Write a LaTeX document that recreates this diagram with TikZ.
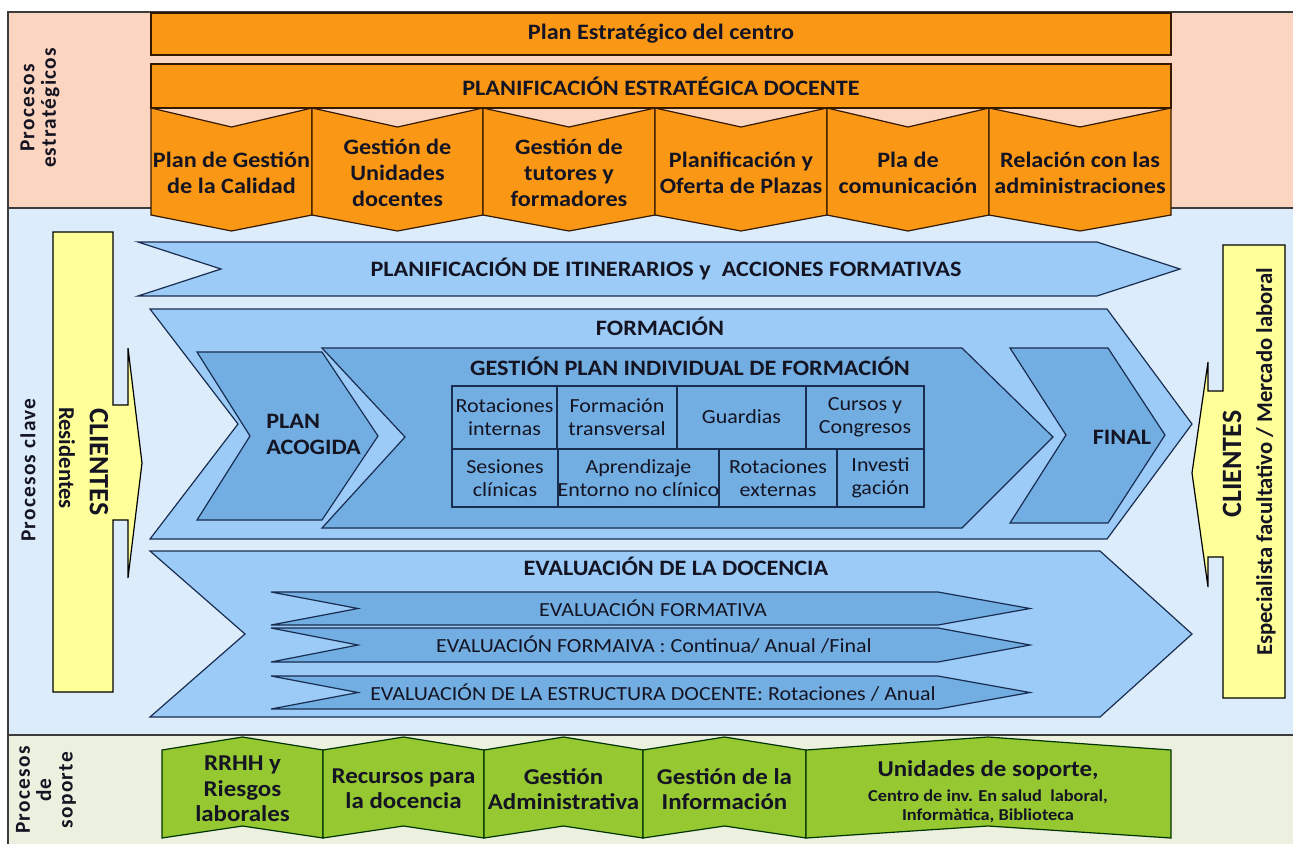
\documentclass[tikz,border=0pt]{standalone}
\usepackage{fontspec}
\setmainfont[FakeStretch=1.1]{Carlito}
\newfontfamily\rotfont{Carlito}
\newfontfamily\lblfont[LetterSpace=6]{Carlito}
\definecolor{salmon}{RGB}{252,213,192}
\definecolor{orangef}{RGB}{250,152,22}
\definecolor{bandblue}{RGB}{221,236,250}
\definecolor{chev}{RGB}{155,203,246}
\definecolor{chevdark}{RGB}{114,174,226}
\definecolor{bandgreen}{RGB}{235,241,222}
\definecolor{greenf}{RGB}{150,200,50}
\definecolor{yel}{RGB}{255,255,153}
\definecolor{ink}{RGB}{20,20,35}
\definecolor{navy}{RGB}{25,45,80}
\definecolor{framec}{RGB}{60,60,60}
\begin{document}
\begin{tikzpicture}[x=0.75pt,y=-0.75pt,
  every node/.style={text=ink, inner sep=0pt, align=center},
  frame/.style={draw=framec, line width=0.9pt},
  obox/.style={fill=orangef, draw=black!80!orange, line width=0.9pt},
  gbox/.style={fill=greenf, draw=black!80!green, line width=0.9pt},
  bigchev/.style={fill=chev, draw=navy, line width=0.9pt},
  inchev/.style={fill=chevdark, draw=navy, line width=0.9pt},
  ybox/.style={fill=yel, draw=black, line width=0.9pt},
  hdr/.style={font=\bfseries\fontsize{16.5}{19.5}\selectfont},
  cell/.style={font=\fontsize{15}{17.5}\selectfont},
  evtxt/.style={font=\fontsize{15}{17.5}\selectfont},
  gtxt/.style={font=\bfseries\fontsize{17}{19}\selectfont},
  lbl/.style={font=\lblfont\bfseries\fontsize{16}{16}\selectfont, rotate=90}
]
\useasboundingbox (0,0) rectangle (1293,844);
\fill[white] (0,0) rectangle (1293,844);
% bands
\fill[salmon] (8,12) rectangle (1293,208);
\fill[bandblue] (8,208) rectangle (1293,735);
\fill[bandgreen] (8,735) rectangle (1293,844);
\draw[frame] (1293,12) -- (8,12) -- (8,844);
\draw[frame] (8,208) -- (1293,208);
\draw[frame] (8,735) -- (1293,735);

% left labels
\node[lbl] (lest) at (40,108) {Procesos\\estratégicos};
\node[lbl] (lcla) at (28,470) {Procesos clave};
\node[lbl] (lsop) at (46,790) {Procesos\\de\\soporte};

% strategic bars
\draw[obox] (151,13) rectangle (1171,55);
\node[hdr] (pe) at (661,34) {Plan Estratégico del centro};
\draw[obox] (151,64) rectangle (1171,108);
\node[hdr] (pd) at (661,86) {PLANIFICACIÓN ESTRATÉGICA DOCENTE};

\foreach \a/\b/\t in {151/312/{Plan de Gestión\\de la Calidad},
                      312/483/{Gestión de\\Unidades\\docentes},
                      483/655/{Gestión de\\tutores y\\formadores},
                      655/827/{Planificación y\\Oferta de Plazas},
                      827/989/{Pla de\\comunicación},
                      989/1171/{Relación con las\\administraciones}}{
  \draw[obox] (\a,108) -- ({(\a+\b)/2},127) -- (\b,108) -- (\b,215) -- ({(\a+\b)/2},231) -- (\a,215) -- cycle;
  \node[hdr] (o\a) at ({(\a+\b)/2},173) {\t};
}

% yellow client arrows
\draw[ybox] (53,232) -- (113,232) -- (113,405) -- (128,405) -- (128,348) -- (142,463) -- (128,578) -- (128,520) -- (113,520) -- (113,692) -- (53,692) -- cycle;
\node[font=\rotfont\bfseries\fontsize{21}{21}\selectfont, rotate=-90] (cL) at (99,462) {CLIENTES};
\node[font=\rotfont\bfseries\fontsize{17}{17}\selectfont, rotate=-90] (rL) at (67,458) {Residentes};

\draw[ybox] (1285,245) -- (1223,245) -- (1223,391) -- (1208,391) -- (1208,362) -- (1192,473) -- (1208,587) -- (1208,557) -- (1223,557) -- (1223,698) -- (1285,698) -- cycle;
\node[font=\rotfont\bfseries\fontsize{21}{21}\selectfont, rotate=90] (cR) at (1232,464) {CLIENTES};
\node[font=\rotfont\bfseries\fontsize{17}{17}\selectfont, rotate=90] (eR) at (1266,462) {Especialista facultativo / Mercado laboral};

% planning chevron
\draw[bigchev] (138,242) -- (1097,242) -- (1180,269) -- (1097,296) -- (138,296) -- (221,269) -- cycle;
\node[hdr] (plan) at (666,269) {PLANIFICACIÓN DE ITINERARIOS y\ \ ACCIONES FORMATIVAS};

% formacion chevron
\draw[bigchev] (150,309) -- (1107,309) -- (1192,424) -- (1107,539) -- (150,539) -- (238,424) -- cycle;
\node[hdr] (form) at (660,326) {FORMACIÓN};
\draw[inchev] (197,352) -- (322,352) -- (378,436) -- (322,520) -- (197,520) -- (250,436) -- cycle;
\node[hdr, anchor=west, align=left] (acog) at (266,434) {PLAN\\ACOGIDA};
\draw[inchev] (322,348) -- (962,348) -- (1053,437) -- (962,528) -- (322,528) -- (405,437) -- cycle;
\node[hdr] (gpif) at (690,366) {GESTIÓN PLAN INDIVIDUAL DE FORMACIÓN};
\draw[inchev] (1010,348) -- (1108,348) -- (1165,435) -- (1108,523) -- (1010,523) -- (1066,435) -- cycle;
\node[hdr] (fin) at (1122,437) {FINAL};

% table
\draw[navy, line width=0.9pt] (452,386) rectangle (924,507);
\draw[navy, line width=0.9pt] (452,449) -- (924,449);
\draw[navy, line width=0.9pt] (557,386) -- (557,449) (677,386) -- (677,449) (806,386) -- (806,449);
\draw[navy, line width=0.9pt] (558,449) -- (558,507) (719,449) -- (719,507) (837,449) -- (837,507);
\node[cell] (c1) at (504.5,417) {Rotaciones\\internas};
\node[cell] (c2) at (617,417) {Formación\\transversal};
\node[cell] (c3) at (741.5,417) {Guardias};
\node[cell] (c4) at (865,417) {Cursos y\\Congresos};
\node[cell] (c5) at (505,478) {Sesiones\\clínicas};
\node[cell] (c6) at (638.5,478) {Aprendizaje\\Entorno no clínico};
\node[cell] (c7) at (778,478) {Rotaciones\\externas};
\node[cell] (c8) at (880.5,478) {Investi\\gación};

% evaluacion chevron
\draw[bigchev] (150,551) -- (1100,551) -- (1192,634) -- (1100,717) -- (150,717) -- (245,634) -- cycle;
\node[hdr] (eval) at (676,566) {EVALUACIÓN DE LA DOCENCIA};
\draw[inchev] (271,592) -- (938,592) -- (1030,608.5) -- (938,625) -- (271,625) -- (358,608.5) -- cycle;
\node[evtxt] (ev1) at (653,608.5) {EVALUACIÓN FORMATIVA};
\draw[inchev] (271,628) -- (938,628) -- (1030,645) -- (938,662) -- (271,662) -- (358,645) -- cycle;
\node[evtxt] (ev2) at (654,645) {EVALUACIÓN FORMAIVA : Continua/ Anual /Final};
\draw[inchev] (271,676) -- (938,676) -- (1030,692.5) -- (938,709) -- (271,709) -- (358,692.5) -- cycle;
\node[evtxt] (ev3) at (653,692.5) {EVALUACIÓN DE LA ESTRUCTURA DOCENTE: Rotaciones / Anual};

% support boxes
\foreach \a/\b/\t in {162/323/{RRHH y\\Riesgos\\laborales},
                      323/484/{Recursos para\\la docencia},
                      484/643/{Gestión\\Administrativa},
                      643/806/{Gestión de la\\Información}}{
  \draw[gbox] (\a,750) -- ({(\a+\b)/2},737) -- (\b,750) -- (\b,838) -- ({(\a+\b)/2},826) -- (\a,838) -- cycle;
  \node[gtxt] (g\a) at ({(\a+\b)/2},789) {\t};
}
\draw[gbox] (806,750) -- (988,737) -- (1171,750) -- (1171,838) -- (988,826) -- (806,838) -- cycle;
\node[gtxt] (g806) at (988,770) {Unidades de soporte,};
\node[font=\bfseries\fontsize{12.5}{14}\selectfont] (g806b) at (988,806) {Centro de inv. En salud\ \ laboral,\\Informàtica, Biblioteca};
\end{tikzpicture}
\end{document}
